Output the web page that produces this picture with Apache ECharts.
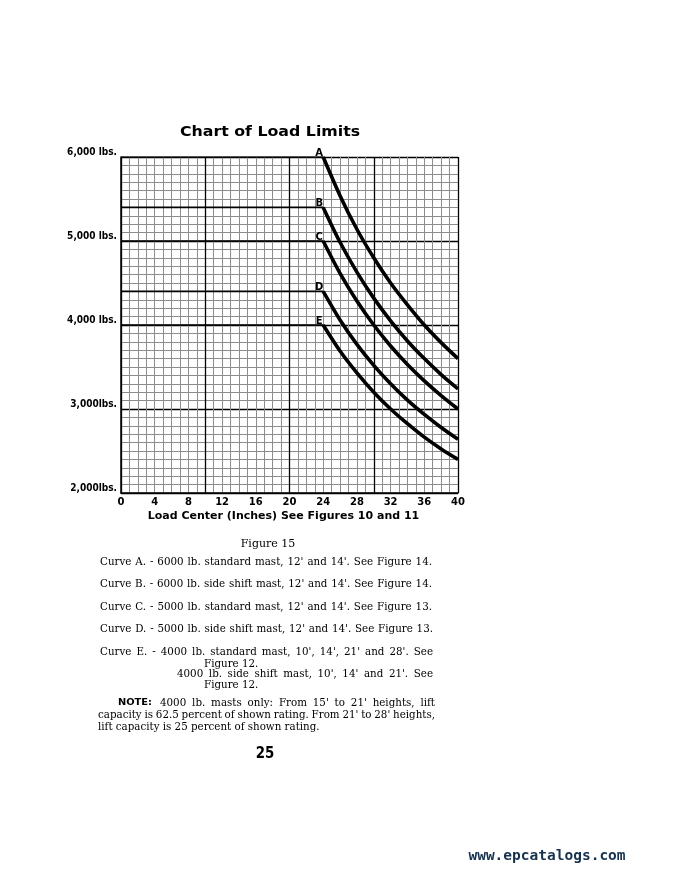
<!DOCTYPE html>
<html>
<head>
<meta charset="utf-8">
<script src="https://cdn.jsdelivr.net/npm/echarts@6/dist/echarts.min.js"></script>
<style>
html,body{margin:0;padding:0;background:#fff;}
#c{width:679px;height:873px;}
</style>
</head>
<body>
<div id="c"></div>
<script>
// ---- data ----
const loadCenters = [24, 26, 28, 30, 32, 34, 36, 38, 40];
const curveA = [6000, 5540, 5140, 4800, 4500, 4240, 4000, 3790, 3600];
const curveB = [5400, 4985, 4630, 4320, 4050, 3810, 3600, 3410, 3240];
const curveC = [5000, 4615, 4285, 4000, 3750, 3530, 3335, 3160, 3000];
const curveD = [4400, 4060, 3770, 3520, 3300, 3105, 2935, 2780, 2640];
const curveE = [4000, 3690, 3430, 3200, 3000, 2825, 2665, 2525, 2400];
const curveNames = ['A', 'B', 'C', 'D', 'E'];
const flatStart = 0;
const yTickLabels = {2000: '2,000lbs.', 3000: '3,000lbs.', 4000: '4,000 lbs.', 5000: '5,000 lbs.', 6000: '6,000 lbs.'};
const captionLines = [
  "Curve A. - 6000 lb. standard mast, 12' and 14'. See Figure 14.",
  "Curve B. - 6000 lb. side shift mast, 12' and 14'. See Figure 14.",
  "Curve C. - 5000 lb. standard mast, 12' and 14'. See Figure 13.",
  "Curve D. - 5000 lb. side shift mast, 12' and 14'. See Figure 13.",
  "Curve E. - 4000 lb. standard mast, 10', 14', 21' and 28'. See"
];

const curves = [curveA, curveB, curveC, curveD, curveE];

const series = [];
curves.forEach((vals, i) => {
  series.push({
    type: 'line', xAxisIndex: 2, yAxisIndex: 1, silent: true,
    showSymbol: false, symbol: 'none',
    lineStyle: {color: '#000', width: 1.6},
    data: [[flatStart, vals[0]], [loadCenters[0], vals[0]]],
    z: 3
  });
  series.push({
    type: 'line', xAxisIndex: 2, yAxisIndex: 1, silent: true,
    smooth: 0.3, symbol: 'circle', symbolSize: 1, showSymbol: true,
    itemStyle: {color: '#000'},
    lineStyle: {color: '#000', width: 3.6},
    data: loadCenters.map((x, j) => j === 0 ? {
      value: [x, vals[j]],
      label: {show: true, formatter: curveNames[i], position: 'top', distance: 0,
        offset: [-4, 2], color: '#000', fontWeight: 'bold', fontSize: 10,
        fontFamily: 'DejaVu Sans'}
    } : [x, vals[j]]),
    z: 4
  });
});

const chart = echarts.init(document.getElementById('c'), null, {renderer: 'canvas'});

const serif = "'DejaVu Serif', 'Liberation Serif', serif";
const bodyFont = '10.3px ' + serif;
const textEls = [];
function txt(x, y, s, opt, extra) {
  textEls.push(Object.assign({type: 'text', x: x, y: y, silent: true,
    style: Object.assign({text: s, fill: '#000', font: bodyFont, textAlign: 'left', textVerticalAlign: 'middle'}, opt || {})}, extra || {}));
}
const mctx = document.createElement('canvas').getContext('2d');
function justify(x0, x1, y, s, font) {
  font = font || bodyFont;
  mctx.font = font;
  const words = s.split(/\s+/);
  const widths = words.map(w => mctx.measureText(w).width);
  const total = widths.reduce((a, b) => a + b, 0);
  const gap = words.length > 1 ? (x1 - x0 - total) / (words.length - 1) : 0;
  let x = x0;
  words.forEach((w, k) => { txt(x, y, w, {font: font}); x += widths[k] + gap; });
}

txt(270, 132, 'Chart of Load Limits', {font: 'bold 13.5px "DejaVu Sans", sans-serif', textAlign: 'center', fill: '#000'}, {scaleX: 1.17});
txt(268, 544, 'Figure 15', {font: '11px ' + serif, textAlign: 'center'});
const capY = [562, 584, 607, 629, 652];
const capEnd = [432, 432, 432, 433, 433];
captionLines.forEach((s, i) => justify(100, capEnd[i], capY[i], s));
txt(204, 664, 'Figure 12.');
justify(177, 433, 674, "4000 lb. side shift mast, 10', 14' and 21'. See");
txt(204, 685, 'Figure 12.');
txt(118, 703, 'NOTE:', {font: 'bold 9.5px "Liberation Sans Narrow", "DejaVu Sans Condensed", sans-serif', fill: '#000'}, {scaleX: 1.15});
justify(160, 435, 703, "4000 lb. masts only: From 15' to 21' heights, lift");
justify(98, 435, 715, "capacity is 62.5 percent of shown rating. From 21' to 28' heights,");
txt(98, 727, 'lift capacity is 25 percent of shown rating.');
txt(265, 754, '25', {font: 'bold 16.5px "Liberation Sans Narrow", "DejaVu Sans Condensed", sans-serif', textAlign: 'center', fill: '#000'}, {scaleX: 0.9});
txt(547, 856, 'www.epcatalogs.com', {font: 'bold 14.5px "DejaVu Sans Mono", "Liberation Mono", monospace', textAlign: 'center', fill: '#16324f'});

chart.setOption({
  animation: false,
  backgroundColor: '#fff',
  grid: {left: 121, right: 221, top: 157, bottom: 380, containLabel: false},
  xAxis: [
    {type: 'value', min: 0, max: 40, interval: 1, position: 'bottom', offset: 0,
      axisLabel: {show: false}, axisTick: {show: false}, axisLine: {show: false},
      splitLine: {show: true, lineStyle: {color: '#8c8c8c', width: 1}}},
    {type: 'value', min: 0, max: 40, interval: 10, position: 'bottom', offset: 0,
      axisLabel: {show: false}, axisTick: {show: false}, axisLine: {show: false},
      splitLine: {show: true, lineStyle: {color: '#000', width: 1.3}}},
    {type: 'value', min: 0, max: 40, interval: 4, position: 'bottom', offset: 0,
      axisTick: {show: false}, axisLine: {show: true, lineStyle: {color: '#000', width: 1.5}},
      splitLine: {show: false},
      axisLabel: {color: '#000', fontWeight: 'bold', fontSize: 10, fontFamily: 'DejaVu Sans', margin: 4},
      name: 'Load Center (Inches) See Figures 10 and 11', nameLocation: 'middle', nameGap: 18,
      nameTextStyle: {color: '#000', fontWeight: 'bold', fontSize: 11, fontFamily: 'DejaVu Sans', padding: [0, 12, 0, 0]}}
  ],
  yAxis: [
    {type: 'value', min: 2000, max: 6000, interval: 100, position: 'left', offset: 0,
      axisLabel: {show: false}, axisTick: {show: false}, axisLine: {show: false},
      splitLine: {show: true, lineStyle: {color: '#8c8c8c', width: 1}}},
    {type: 'value', min: 2000, max: 6000, interval: 1000, position: 'left', offset: 0,
      axisTick: {show: false}, axisLine: {show: true, lineStyle: {color: '#000', width: 1.5}},
      splitLine: {show: true, lineStyle: {color: '#000', width: 1.3}},
      axisLabel: {color: '#000', fontWeight: 'bold', fontSize: 10, margin: 4,
        fontFamily: '"Liberation Sans Narrow", "DejaVu Sans Condensed", sans-serif',
        verticalAlign: 'bottom',
        formatter: v => yTickLabels[v] || ''}}
  ],
  graphic: textEls,
  series: series
});
</script>
</body>
</html>
